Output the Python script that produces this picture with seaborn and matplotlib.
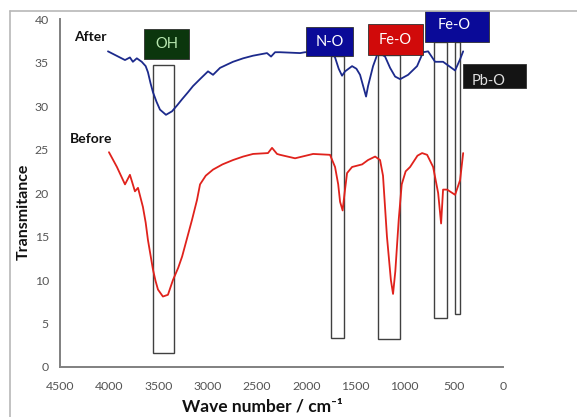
import matplotlib
matplotlib.use("Agg")
import matplotlib.pyplot as plt
import matplotlib.patches as mpatches
from matplotlib.lines import Line2D
import seaborn as sns
import pandas as pd

# FTIR spectra
after_wn = [4013, 3840, 3790, 3760, 3720, 3670, 3630, 3607, 3580, 3556, 3520, 3485,
            3424, 3363, 3310, 3260, 3200, 3150, 3070, 2997, 2946, 2875, 2800, 2743,
            2640, 2540, 2398, 2357, 2316, 2266, 2062, 2012, 1737, 1707, 1670, 1636,
            1605, 1534, 1490, 1453, 1392, 1372, 1321, 1270, 1199, 1148, 1097, 1046,
            965, 874, 813, 762, 691, 610, 488, 437, 406]
after_t = [36.3, 35.3, 35.6, 35.1, 35.5, 35.1, 34.6, 33.9, 32.6, 31.6, 30.5, 29.6,
           29.0, 29.4, 30.1, 30.8, 31.6, 32.3, 33.2, 34.0, 33.6, 34.4, 34.8, 35.1,
           35.5, 35.8, 36.1, 35.7, 36.2, 36.2, 36.1, 36.2, 36.2, 35.6, 34.3, 33.5,
           34.0, 34.6, 34.3, 33.6, 31.1, 32.3, 34.6, 36.2, 35.7, 34.4, 33.4, 33.1,
           33.6, 34.6, 36.2, 36.3, 35.1, 35.1, 34.1, 35.4, 36.3]

before_wn = [4003, 3922, 3840, 3790, 3739, 3708, 3658, 3630, 3607, 3580, 3556, 3530,
             3505, 3455, 3404, 3353, 3300, 3260, 3210, 3160, 3109, 3078, 3020, 2946,
             2850, 2743, 2640, 2540, 2388, 2347, 2296, 2266, 2113, 1930, 1758, 1707,
             1675, 1656, 1630, 1610, 1585, 1534, 1432, 1372, 1300, 1250, 1220, 1180,
             1140, 1118, 1095, 1060, 1030, 990, 945, 870, 823, 772, 711, 660, 630,
             610, 569, 488, 437, 406]
before_t = [24.7, 23.0, 21.0, 22.1, 20.2, 20.6, 18.4, 16.6, 14.6, 12.8, 11.2, 9.9,
            8.9, 8.1, 8.3, 10.0, 11.4, 12.7, 14.8, 16.9, 19.2, 21.0, 22.0, 22.7,
            23.3, 23.8, 24.2, 24.5, 24.6, 25.2, 24.5, 24.4, 24.0, 24.5, 24.4, 23.0,
            21.0, 19.0, 18.0, 20.0, 22.3, 23.0, 23.3, 23.8, 24.2, 23.8, 22.0, 15.0,
            10.0, 8.4, 11.0, 17.0, 21.0, 22.5, 23.0, 24.3, 24.6, 24.4, 23.0, 20.0,
            16.5, 20.4, 20.4, 19.8, 21.5, 24.6]

# marked absorption bands (wavenumber range and vertical extent)
band_hi = [3556, 1748, 1270, 701, 488]
band_lo = [3343, 1615, 1046, 569, 437]
band_bottom = [1.6, 3.3, 3.2, 5.6, 6.1]
band_top = [34.7, 35.75, 35.86, 37.36, 37.36]

# assignment labels: text, box extent in data units, colours
label_text = ["OH", "N-O", "Fe-O", "Fe-O", "Pb-O"]
label_x0 = [3647, 2001, 1371, 792, 406]
label_x1 = [3190, 1524, 813, 142, -234]
label_y0 = [35.40, 35.75, 35.86, 37.36, 32.07]
label_y1 = [38.85, 39.08, 39.43, 40.92, 34.83]
label_fill = ["#0b360d", "#0a0a98", "#d10a0a", "#0a0a98", "#141414"]
label_color = ["#b8e8b0", "white", "white", "white", "#e0e0e0"]

df = pd.concat([
    pd.DataFrame({"wn": after_wn, "T": after_t, "sample": "After"}),
    pd.DataFrame({"wn": before_wn, "T": before_t, "sample": "Before"}),
])

sns.set_style("white")
plt.rcParams["font.family"] = ["Lato", "DejaVu Sans"]

fig = plt.figure(figsize=(5.77, 4.17), dpi=100)
ax = fig.add_axes([0.104, 0.12, 0.768, 0.834])

sns.lineplot(data=df, x="wn", y="T", hue="sample", sort=False,
             palette={"After": "#1c2a8c", "Before": "#e0221c"},
             linewidth=1.3, legend=False, ax=ax, zorder=3)

for lo, hi, b, t in zip(band_lo, band_hi, band_bottom, band_top):
    ax.add_patch(mpatches.Rectangle((lo, b), hi - lo, t - b, fill=False,
                                    edgecolor="#404040", linewidth=1.0, zorder=2))

for i, txt in enumerate(label_text):
    x0, x1 = label_x0[i], label_x1[i]
    y0, y1 = label_y0[i], label_y1[i]
    ax.add_patch(mpatches.Rectangle((x1, y0), x0 - x1, y1 - y0,
                                    facecolor=label_fill[i], edgecolor="#303030",
                                    linewidth=0.6, zorder=5, clip_on=False))
    tx = (x0 + x1) / 2
    ty = (y0 + y1) / 2
    if txt == "Pb-O":
        tx = x0 - 0.4 * (x0 - x1)
        ty = y0 + 0.3 * (y1 - y0)
    if label_y1[i] > 40.5:
        ty = y0 + 0.55 * (y1 - y0)
        tx = x0 - 0.45 * (x0 - x1)
    ax.text(tx, ty, txt, ha="center", va="center", color=label_color[i],
            fontsize=10.5, zorder=6, clip_on=False)

ax.text(4196, 38.0, "After", ha="center", va="center", fontsize=10,
        fontweight="bold", color="#111111")
ax.text(4186, 26.2, "Before", ha="center", va="center", fontsize=10,
        fontweight="bold", color="#111111")

ax.set_xlim(4500, 0)
ax.set_ylim(0, 40)
ax.set_xticks(range(4500, -1, -500))
ax.set_yticks(range(0, 41, 5))
ax.tick_params(axis="both", length=0, labelsize=8.8, labelcolor="#555555")
ax.tick_params(axis="x", pad=10)
ax.tick_params(axis="y", pad=8)

for side in ["top", "right"]:
    ax.spines[side].set_visible(False)
for side in ["left", "bottom"]:
    ax.spines[side].set_color("#808080")
    ax.spines[side].set_linewidth(1.4)

ax.set_xlabel("Wave number / cm⁻¹", fontsize=12.5, fontweight="bold", color="#111111")
ax.set_ylabel("Transmitance", fontsize=11.5, fontweight="bold", color="#111111")
ax.xaxis.label.set_va("center")
ax.yaxis.label.set_va("center")
ax.xaxis.set_label_coords(0.456, -0.115)
ax.yaxis.set_label_coords(-0.081, 0.445)

# outer chart-area frame
fig.add_artist(Line2D([0.0173, 0.0173], [0.0, 0.9736], transform=fig.transFigure,
                      color="#b8b8b8", linewidth=1.2))
fig.add_artist(Line2D([0.0173, 1.0], [0.9736, 0.9736], transform=fig.transFigure,
                      color="#b8b8b8", linewidth=1.2))

fig.savefig("out.png", dpi=100)
